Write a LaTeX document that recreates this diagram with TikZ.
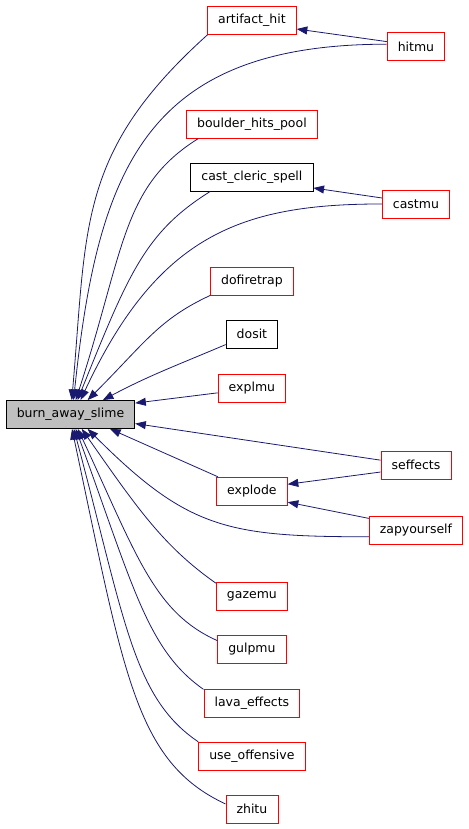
\documentclass[tikz,border=0pt]{standalone}
\usepackage{fontspec}
\setmainfont{DejaVu Sans}
\usepackage{xcolor}
\usetikzlibrary{positioning, arrows.meta}
\definecolor{edgeblue}{HTML}{191970}
\definecolor{nodegray}{HTML}{BFBFBF}

\begin{document}
\begin{tikzpicture}[node distance=2cm, on grid, auto,
    func/.style={draw=red, line width=0.6pt, minimum height=0.74cm, inner xsep=8pt,
      font=\fontsize{9.4}{11}\selectfont},
    funcb/.style={func, draw=black},
    cur/.style={funcb, fill=nodegray},
    call/.style={color=edgeblue, line width=0.6pt, -{Triangle[length=8pt,width=6pt]}}]
        \useasboundingbox (-1.865,-10.967) rectangle (10.544,10.967);
        \node[cur] (burn) {burn\_away\_slime};
        \node[func, above right=0.70cm and 4.80cm of burn] (explmu) {explmu};
        \node[funcb, above=1.43cm of explmu] (dosit) {dosit};
        \node[func, above=1.40cm of dosit] (dofiretrap) {dofiretrap};
        \node[funcb, above=2.75cm of dofiretrap] (castcleric) {cast\_cleric\_spell};
        \node[func, above=1.40cm of castcleric] (boulder) {boulder\_hits\_pool};
        \node[func, above=2.75cm of boulder] (artifact) {artifact\_hit};
        \node[func, below=2.73cm of explmu] (explode) {explode};
        \node[func, below=2.78cm of explode] (gazemu) {gazemu};
        \node[func, below=1.40cm of gazemu] (gulpmu) {gulpmu};
        \node[func, below=1.43cm of gulpmu] (lava) {lava\_effects};
        \node[func, below=1.40cm of lava] (useoff) {use\_offensive};
        \node[func, below=1.40cm of useoff] (zhitu) {zhitu};
        \node[func, below right=0.70cm and 4.34cm of artifact] (hitmu) {hitmu};
        \node[func, below right=0.71cm and 4.34cm of castcleric] (castmu) {castmu};
        \node[func, above right=0.69cm and 4.34cm of explode] (seffects) {seffects};
        \node[func, below right=1.03cm and 4.34cm of explode] (zapyourself) {zapyourself};

        \path[call]
        (hitmu.170) edge (artifact.349)
        (castmu.170) edge (castcleric.350)
        (seffects.191) edge (explode.11)
        (zapyourself.166) edge (explode.343)
        (artifact.198) edge[out=222, in=85, looseness=1.15] (burn.85)
        (hitmu.175) edge[out=180, in=84, out looseness=1.3, in looseness=1.25] (burn.78)
        (boulder.195) edge[out=212, in=72, out looseness=0.8, in looseness=1.4] (burn.70)
        (castcleric.199) edge[out=212, in=68, out looseness=0.8, in looseness=1.4] (burn.64)
        (castmu.180) edge[out=180, in=65, in looseness=1.3] (burn.55)
        (dofiretrap.199) edge[out=205, in=45, out looseness=0.9, in looseness=1.3] (burn.40)
        (dosit.202) edge[out=203, in=28] (burn.24)
        (explmu.188) edge (burn.10)
        (seffects.172) edge (burn.352)
        (explode.157) edge (burn.340)
        (zapyourself.188) edge[out=180, in=-45, looseness=1.2] (burn.320)
        (gazemu.160) edge[out=145, in=-55, out looseness=0.8, in looseness=1.2] (burn.308)
        (gulpmu.166) edge[out=156, in=-65, out looseness=0.7, in looseness=1.4] (burn.297)
        (lava.164) edge[out=145, in=-70, out looseness=0.6, in looseness=1.5] (burn.290)
        (useoff.165) edge[out=146, in=-75, out looseness=0.6, in looseness=1.5] (burn.283)
        (zhitu.169) edge[out=155, in=-78, out looseness=0.63, in looseness=1.58] (burn.276);
    \end{tikzpicture}
\end{document}
